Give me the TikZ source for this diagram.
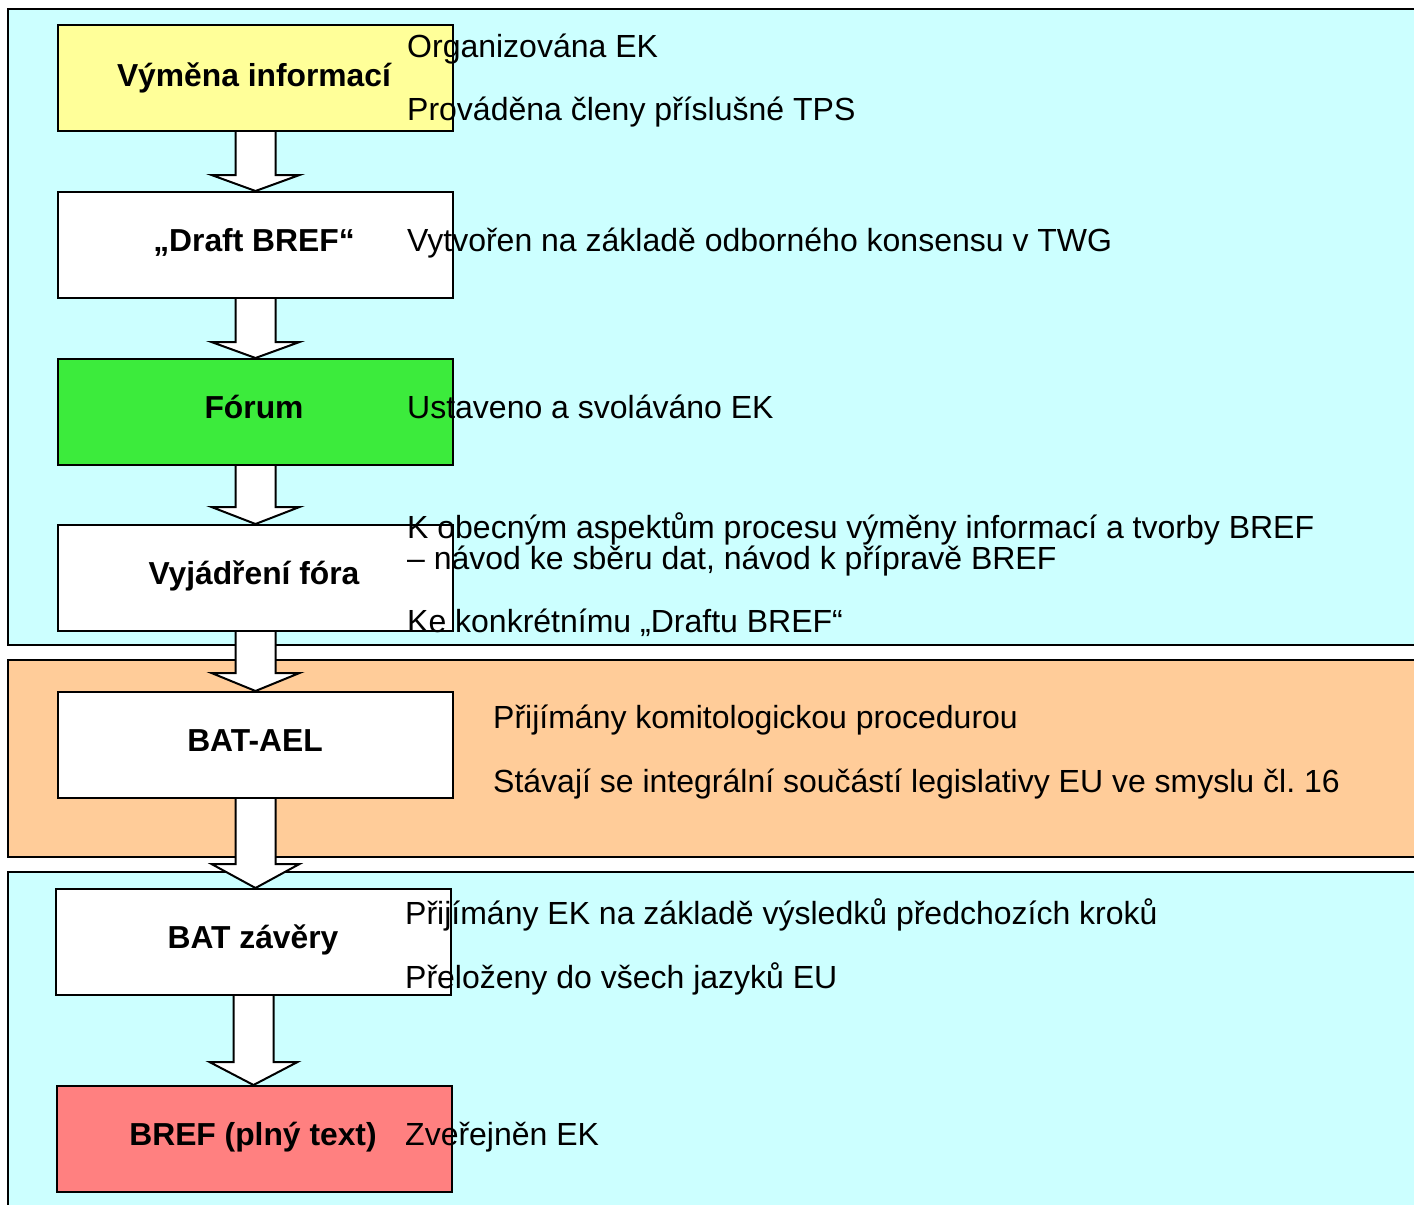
\documentclass[tikz,border=0pt]{standalone}
\usepackage{fontspec}
\setmainfont{Liberation Sans}
\usetikzlibrary{calc}
\definecolor{cyanbg}{HTML}{CCFFFF}
\definecolor{orangebg}{HTML}{FFCC99}
\definecolor{yellowbox}{HTML}{FFFF99}
\definecolor{greenbox}{HTML}{3CEB3C}
\definecolor{redbox}{HTML}{FF8080}
\tikzset{
  panel/.style={draw=black, line width=2.5pt},
  stepbox/.style={draw=black, line width=2pt, minimum width=395pt, minimum height=106pt, inner sep=0pt, anchor=north west,
     font=\fontsize{31.5}{36}\selectfont\bfseries},
  desc/.style={anchor=base west, inner sep=0pt, font=\fontsize{32}{36}\selectfont},
  boxlabel/.style={anchor=base, inner sep=0pt, font=\fontsize{31.8}{36}\selectfont\bfseries},
  blockarrow/.style={draw=black, fill=white, line width=2pt, line join=miter},
}
\newcommand\blockarr[3]{%
  \draw[blockarrow] let \p1=(#1.south), \p2=(#2.north) in
    (\x1-20pt,\y1) -- (\x1-20pt,\y2+#3pt) -- (\x1-44pt,\y2+#3pt) -- (\x1,\y2)
    -- (\x1+44pt,\y2+#3pt) -- (\x1+20pt,\y2+#3pt) -- (\x1+20pt,\y1);}
\begin{document}
\begin{tikzpicture}[x=1pt,y=-1pt]
\useasboundingbox (0,0) rectangle (1414,1205);
% panels
\draw[panel, fill=cyanbg] (8,9) rectangle (1424,645);
\draw[panel, fill=orangebg] (8,660) rectangle (1424,857);
\draw[panel, fill=cyanbg] (8,872) rectangle (1424,1220);
% boxes
\node[stepbox, fill=yellowbox] (b1) at (57,24) {};
\node[stepbox, fill=white] (b2) at (57,191) {};
\node[stepbox, fill=greenbox] (b3) at (57,358) {};
\node[stepbox, fill=white] (b4) at (57,524) {};
\node[stepbox, fill=white] (b5) at (57,691) {};
\node[stepbox, fill=white] (b6) at (55,888) {};
\node[stepbox, fill=redbox] (b7) at (56,1085) {};
% arrows
\blockarr{b1}{b2}{16}
\blockarr{b2}{b3}{16}
\blockarr{b3}{b4}{17}
\blockarr{b4}{b5}{18}
\blockarr{b5}{b6}{24}
\blockarr{b6}{b7}{23}
% box labels
\node[boxlabel] (l1) at (254,86) {Výměna informací};
\node[boxlabel] (l2) at (254,251) {„Draft BREF“};
\node[boxlabel] (l3) at (254,418) {Fórum};
\node[boxlabel] (l4) at (254,584) {Vyjádření fóra};
\node[boxlabel] (l5) at (255,751) {BAT-AEL};
\node[boxlabel] (l6) at (253,948) {BAT závěry};
\node[boxlabel] (l7) at (253,1145) {BREF (plný text)};
% descriptions
\node[desc] (t1a) at (407,57) {Organizována EK};
\node[desc] (t1b) at (407,120) {Prováděna členy příslušné TPS};
\node[desc] (t2) at (407,251) {Vytvořen na základě odborného konsensu v TWG};
\node[desc] (t3) at (407,418) {Ustaveno a svoláváno EK};
\node[desc] (t4a) at (407,538) {K obecným aspektům procesu výměny informací a tvorby BREF};
\node[desc] (t4b) at (407,569) {– návod ke sběru dat, návod k přípravě BREF};
\node[desc] (t4c) at (407,632) {Ke konkrétnímu „Draftu BREF“};
\node[desc] (t5a) at (493,728) {Přijímány komitologickou procedurou};
\node[desc] (t5b) at (493,792) {Stávají se integrální součástí legislativy EU ve smyslu čl.\ 16};
\node[desc] (t6a) at (405,924) {Přijímány EK na základě výsledků předchozích kroků};
\node[desc] (t6b) at (405,988) {Přeloženy do všech jazyků EU};
\node[desc] (t7) at (405,1145) {Zveřejněn EK};
\end{tikzpicture}
\end{document}
